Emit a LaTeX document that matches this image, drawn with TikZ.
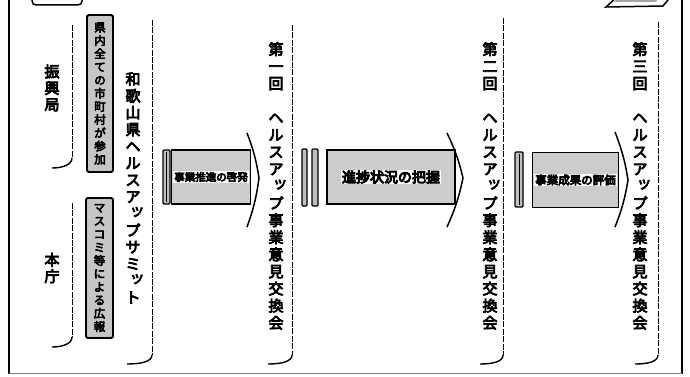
\documentclass[tikz,border=0pt]{standalone}
\usepackage{fontspec}
\newfontfamily\cjk[FakeBold=5]{Noto Sans CJK JP}
\newfontfamily\cjkheavy[FakeBold=7]{Noto Sans CJK JP}
\newcommand\smtsu{\makebox[1em][l]{\hspace{0.28em}\raisebox{0.22em}{ッ}}}
\begin{document}
\begin{tikzpicture}[x=1pt,y=-1pt,
  frameline/.style={line width=1.8pt},
  bracket/.style={line width=1pt, dash pattern=on 6pt off 1.4pt},
  hook/.style={line width=1.4pt},
  vlabel/.style={font=\cjk\fontsize{15}{17.1}\selectfont, align=center, inner sep=0pt, anchor=north},
  sumlabel/.style={font=\cjk\fontsize{15}{16.8}\selectfont, align=center, inner sep=0pt, anchor=north},
  sidelabel/.style={font=\cjk\fontsize{15}{16.5}\selectfont, align=center, inner sep=0pt},
  hbox/.style={draw, line width=1.8pt, fill=gray!45, rounded corners=1.5pt, inner sep=0pt, align=center, font=\cjk\fontsize{11.5}{13.2}\selectfont},
  abody/.style={draw, line width=1.6pt, fill=gray!40, inner sep=0pt},
  ahead/.style={line width=1.5pt},
  barbox/.style={draw, line width=1.2pt, fill=gray!50, rounded corners=1pt},
  band/.style={fill=white, inner sep=1pt, text=black}
]
\useasboundingbox (0,0) rectangle (690,377);

% outer frame
\draw[frameline] (9,0) -- (9,374);
\draw[frameline] (682,0) -- (682,374);
\draw[line width=1pt, gray] (9,373) -- (682,373);

% top tabs
\draw[line width=1.5pt, fill=white, rounded corners=4pt] (32,-10) rectangle (82,5);
\fill[gray!70] (38,-10) rectangle (76,0);
\draw[line width=1.5pt, fill=white] (606,7) -- (619,-5) -- (672,-5) -- (663,6) -- cycle;
\fill[gray!70] (620,-5) -- (660,-5) -- (656,2) -- (614,2) -- cycle;

% left column: 振興局 / 本庁 brackets
\node[sidelabel] (shinko) at (52,88) {振\\興\\局};
\node[sidelabel] (honcho) at (52,268) {本\\庁};
\coordinate (b1t) at (72,25);
\coordinate (b1b) at (72,158);
\coordinate (b1e) at (52,168);
\draw[bracket] (b1t) -- (b1b);
\draw[hook] (b1b) .. controls (72,165) and (62,168) .. (b1e);
\coordinate (b2t) at (72,203);
\coordinate (b2b) at (72,337);
\coordinate (b2e) at (52,347);
\draw[bracket] (b2t) -- (b2b);
\draw[hook] (b2b) .. controls (72,344) and (62,347) .. (b2e);

% boxes
\node[hbox, minimum width=26, minimum height=157] (box1) at (100,93.5)
  {県\\内\\全\\て\\の\\市\\町\\村\\が\\参\\加};
\node[hbox, minimum width=27, minimum height=140] (box2) at (99.5,268)
  {マ\\ス\\コ\\ミ\\等\\に\\よ\\る\\広\\報};

% summit column
\node[sumlabel] (summit) at (133,72)
  {和\\歌\\山\\県\\ヘ\\ル\\ス\\ア\\\smtsu\\プ\\サ\\ミ\\\smtsu\\ト};
\coordinate (s1t) at (152,20);
\coordinate (s1b) at (152,355);
\coordinate (s1e) at (127,364);
\draw[bracket] (s1t) -- (s1b);
\draw[hook] (s1b) .. controls (152,362) and (140,364) .. (s1e);

% meeting columns
\node[vlabel] (m1) at (276,42)
  {第\\一\\回\\\mbox{}\\ヘ\\ル\\ス\\ア\\\smtsu\\プ\\事\\業\\意\\見\\交\\換\\会};
\coordinate (l1t) at (292,25);
\coordinate (l1b) at (292,355);
\coordinate (l1e) at (268,364);
\draw[bracket] (l1t) -- (l1b);
\draw[hook] (l1b) .. controls (292,362) and (280,364) .. (l1e);

\node[vlabel] (m2) at (490,42)
  {第\\二\\回\\\mbox{}\\ヘ\\ル\\ス\\ア\\\smtsu\\プ\\事\\業\\意\\見\\交\\換\\会};
\coordinate (l2t) at (503,18);
\coordinate (l2b) at (503,355);
\coordinate (l2e) at (480,364);
\draw[bracket] (l2t) -- (l2b);
\draw[hook] (l2b) .. controls (503,362) and (492,364) .. (l2e);

\node[vlabel] (m3) at (640,42)
  {第\\三\\回\\\mbox{}\\ヘ\\ル\\ス\\ア\\\smtsu\\プ\\事\\業\\意\\見\\交\\換\\会};
\coordinate (l3t) at (658,22);
\coordinate (l3b) at (658,355);
\coordinate (l3e) at (635,364);
\draw[bracket] (l3t) -- (l3b);
\draw[hook] (l3b) .. controls (658,362) and (647,364) .. (l3e);

% arrow 1
\draw[barbox] (163,150) rectangle (170,204);
\draw[line width=0.8pt] (166.5,152) -- (166.5,202);
\draw[ahead] (247,133) to[bend left=6] (259,178) to[bend left=6] (247,227);
\node[abody, minimum width=79, minimum height=54] (a1) at (211,177) {};
\node[band, font=\cjkheavy\fontsize{10.5}{11}\selectfont] (t1) at (a1) {事業推進の啓発};

% arrow 2
\draw[barbox] (302,149) rectangle (307,206);
\draw[barbox] (312,149) rectangle (318,206);
\draw[ahead] (447,133) to[bend left=6] (463,178) to[bend left=6] (447,227);
\node[abody, minimum width=128, minimum height=54] (a2) at (391,177) {};
\node[band, font=\cjkheavy\fontsize{14}{15}\selectfont] (t2) at (a2) {進捗状況の把握};

% arrow 3
\draw[barbox] (515,152) rectangle (523,207);
\draw[line width=0.8pt] (519,154) -- (519,205);
\draw[ahead] (615,132) to[bend left=6] (628,180) to[bend left=6] (615,227);
\node[abody, minimum width=86, minimum height=55] (a3) at (575.5,180) {};
\node[band, font=\cjkheavy\fontsize{11.5}{12}\selectfont] (t3) at (a3) {事業成果の評価};
\end{tikzpicture}
\end{document}
